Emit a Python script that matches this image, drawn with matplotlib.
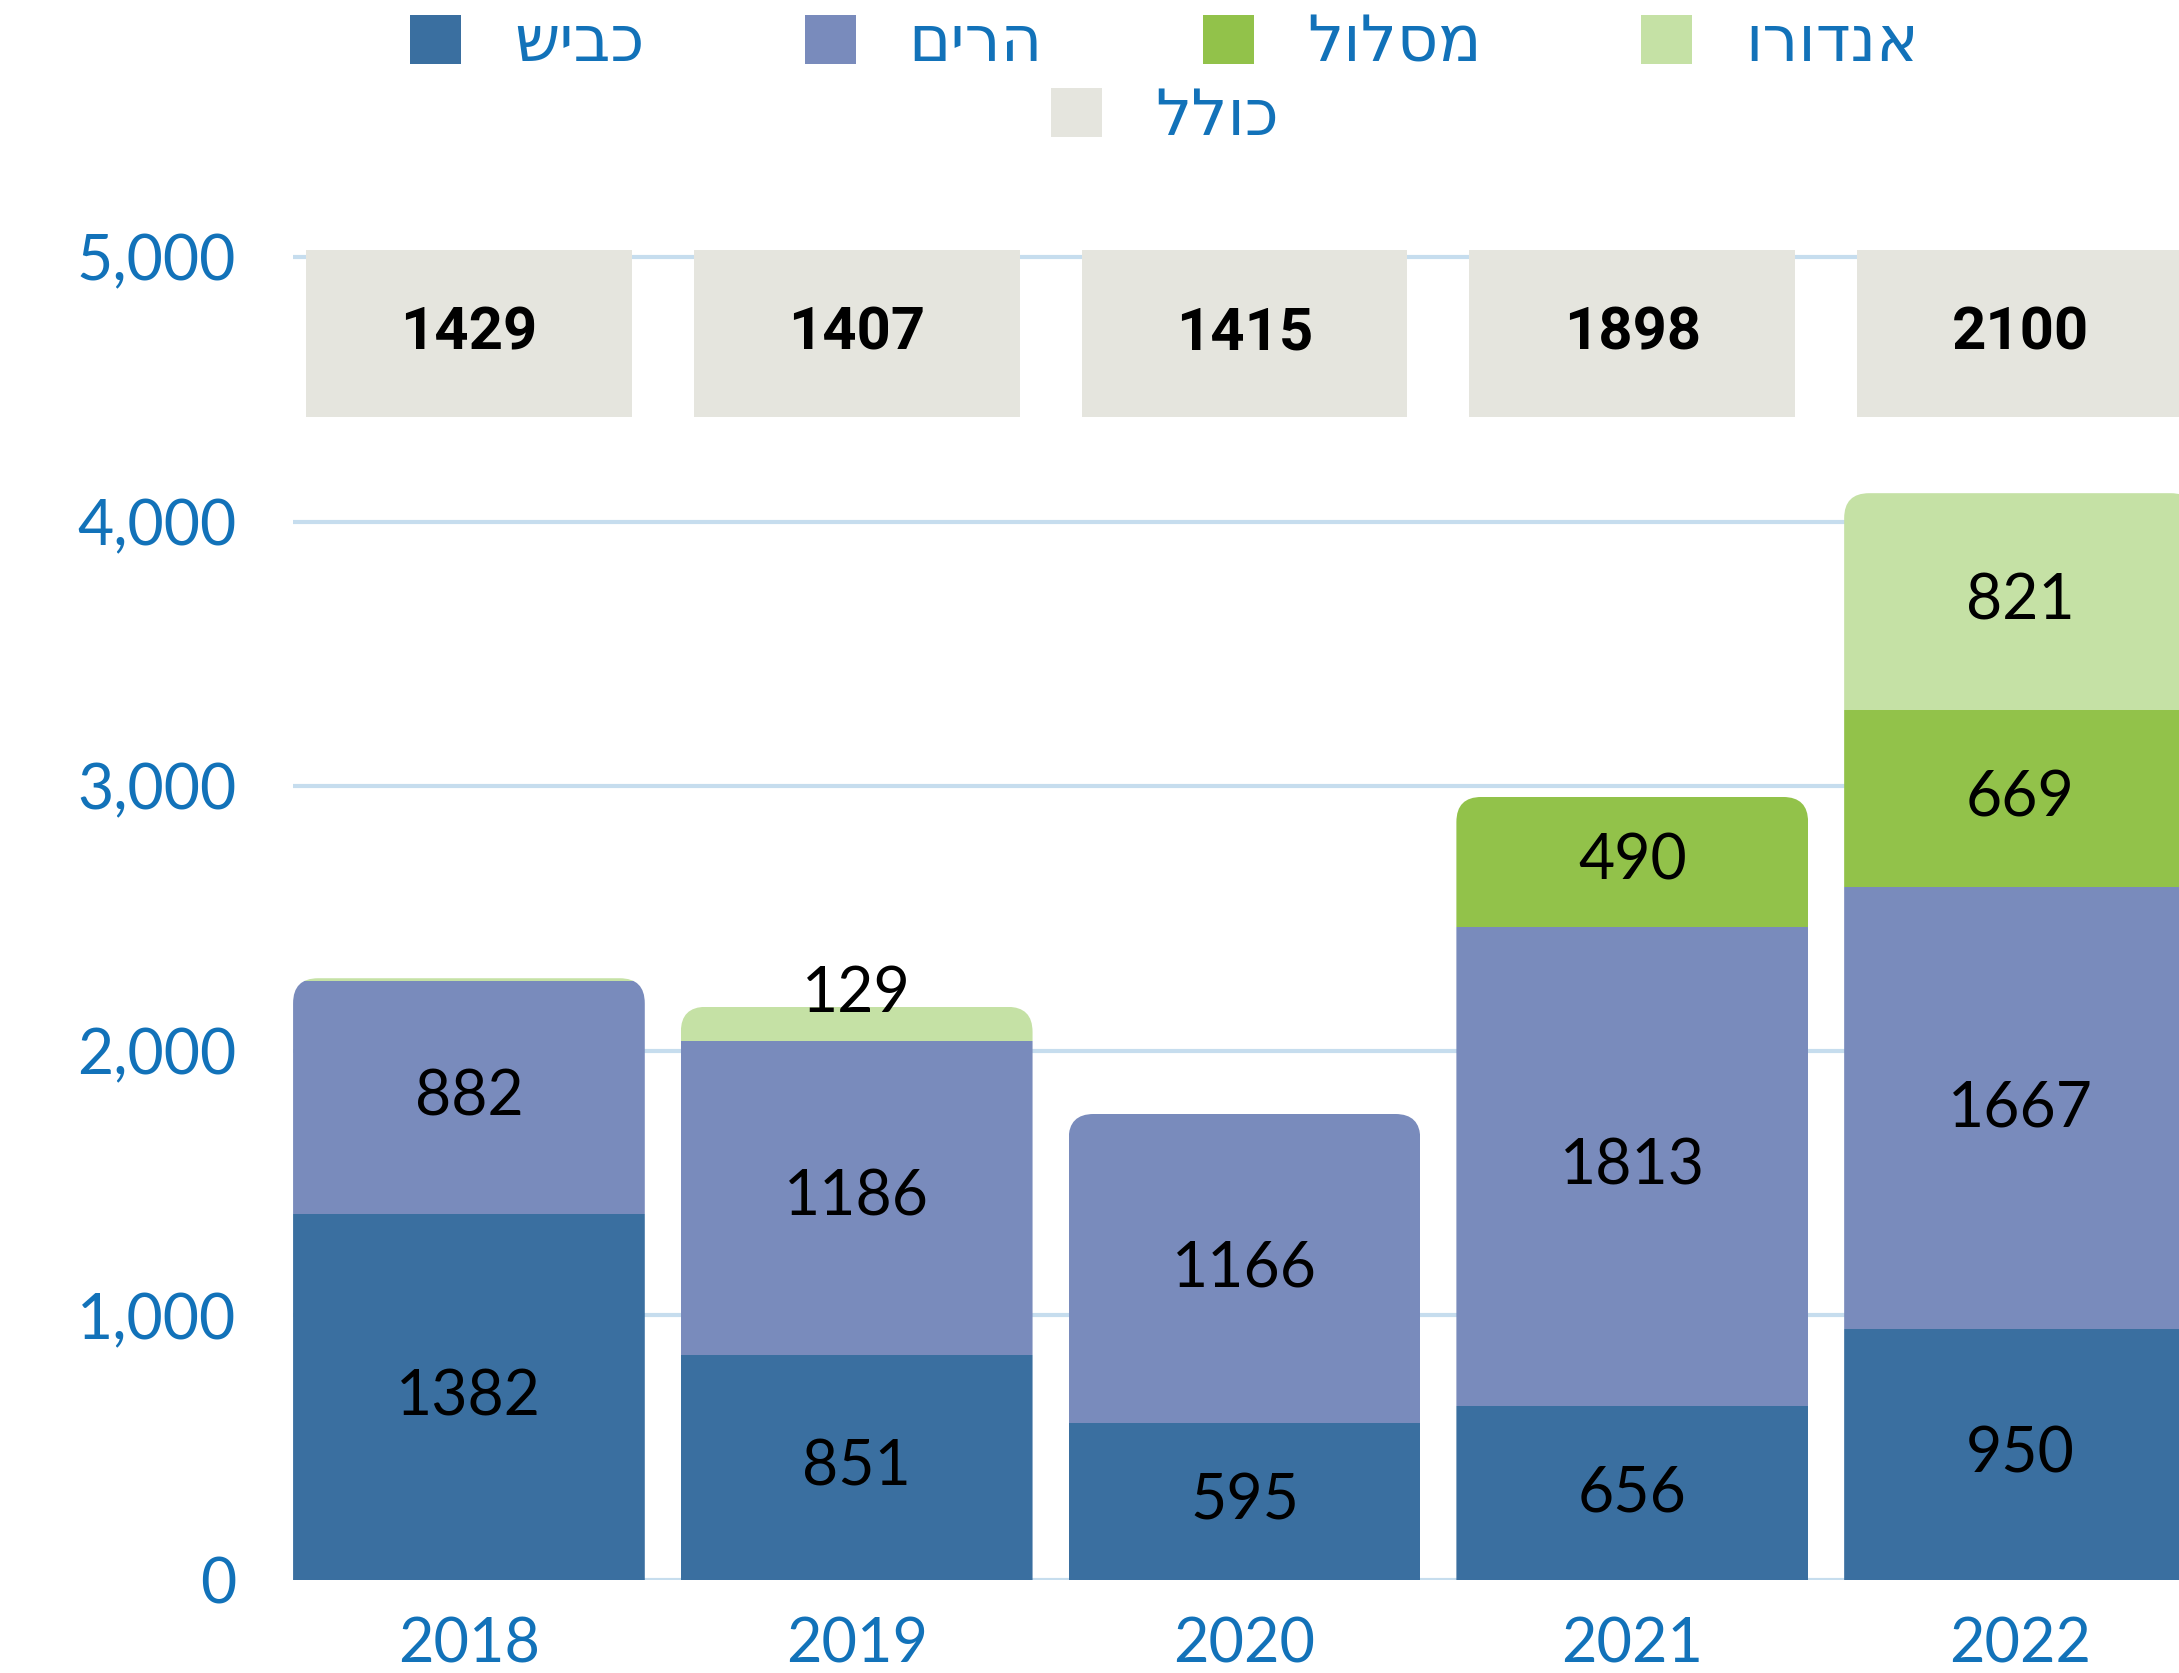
import matplotlib
matplotlib.use('Agg')
import matplotlib.pyplot as plt
from matplotlib.patches import FancyBboxPatch, Patch

# data
years = ['2018', '2019', '2020', '2021', '2022']
kvish = [1382, 851, 595, 656, 950]      # כביש
harim = [882, 1186, 1166, 1813, 1667]   # הרים
maslul = [0, 0, 0, 490, 669]            # מסלול
enduro = [10, 129, 0, 0, 821]           # אנדורו
kolel = [1429, 1407, 1415, 1898, 2100]  # כולל

series_names = ['כביש', 'הרים', 'מסלול', 'אנדורו', 'כולל']
colors = ['#3A6FA0', '#798BBC', '#92C24A', '#C5E1A5', '#E5E5DE']
tick_color = '#1272B9'
grid_color = '#C6DDEE'

plt.rcParams['font.family'] = ['Lato', 'DejaVu Sans']

fig = plt.figure(figsize=(21.79, 16.73), dpi=100)
ax = fig.add_axes([0.1345, 0.0556, 0.8655, 0.7956])

x = list(range(len(years)))
bar_w = 0.907
box_w = 0.84
radius_x = 0.0645
aspect = 1465

ax.set_xlim(-bar_w / 2, 4.41)
ax.set_ylim(0, 5030)

# grid lines
for v in range(0, 5001, 1000):
    ax.axhline(v, color=grid_color, lw=3, zorder=0)

# stacked bars
stack = [kvish, harim, maslul, enduro]
bottoms = [0] * len(years)
containers = []
for vals, col in zip(stack, colors[:4]):
    bc = ax.bar(x, vals, bottom=bottoms, width=bar_w, color=col, zorder=2, linewidth=0)
    containers.append((bc, vals, list(bottoms)))
    bottoms = [b + v for b, v in zip(bottoms, vals)]
totals = bottoms

# rounded top corners via clip path
for i, xi in enumerate(x):
    clip = FancyBboxPatch((xi - bar_w / 2, -500), bar_w, totals[i] + 500,
                          boxstyle=f'round,pad=0,rounding_size={radius_x}',
                          mutation_aspect=aspect, transform=ax.transData)
    for bc, vals, bots in containers:
        bc[i].set_clip_path(clip)

# segment labels
for bc, vals, bots in containers:
    for i, (v, b) in enumerate(zip(vals, bots)):
        if v < 50:
            continue
        if v < 200:
            y = b + v + 50
        else:
            y = b + v / 2
        ax.text(x[i], y, str(v), ha='center', va='center', fontsize=45,
                color='black', zorder=5)

# kolel boxes at the top
box_bottom = 4395
box_top = 5026
ax.bar(x, [box_top - box_bottom] * len(x), bottom=box_bottom, width=box_w,
       color=colors[4], zorder=2, linewidth=0)
for i, v in enumerate(kolel):
    ax.text(x[i], (box_bottom + box_top) / 2, str(v), ha='center', va='center',
            fontsize=43, fontweight='bold', family=['Roboto', 'DejaVu Sans'],
            color='black', zorder=5)

for s in ax.spines.values():
    s.set_visible(False)

ax.set_yticks(range(0, 5001, 1000))
ax.set_yticklabels([f'{v:,}' for v in range(0, 5001, 1000)])
ax.set_xticks(x)
ax.set_xticklabels(years)
ax.tick_params(axis='y', length=0, pad=41, labelsize=45, labelcolor=tick_color)
ax.tick_params(axis='x', length=0, pad=26, labelsize=44, labelcolor=tick_color)

# legend (Hebrew reversed for visual RTL order)
handles = [Patch(facecolor=c, edgecolor='none') for c in colors]
labels = [n[::-1] for n in series_names]
leg_kw = dict(frameon=False, fontsize=46, labelcolor=tick_color,
              handlelength=0.8, handleheight=0.8, handletextpad=0.83,
              columnspacing=2.5, borderpad=0, borderaxespad=0)
fig.legend(handles[:4], labels[:4], ncol=4, loc='center',
           bbox_to_anchor=(0.5345, 0.974), **leg_kw)
fig.legend(handles[4:], labels[4:], ncol=1, loc='center',
           bbox_to_anchor=(0.5345, 0.930), **leg_kw)

plt.savefig('out.png', dpi=100)
